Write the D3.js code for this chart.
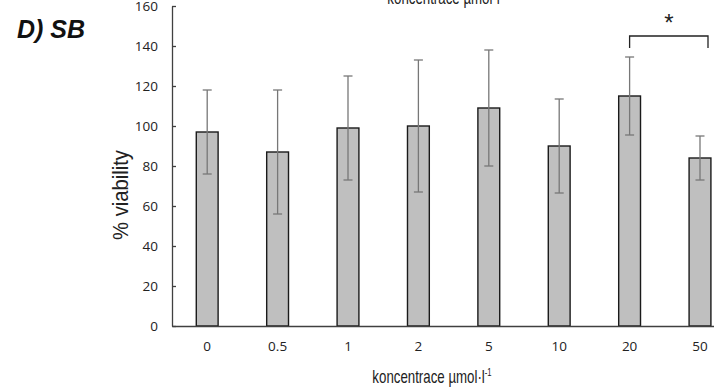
<!DOCTYPE html>
<html>
<head>
<meta charset="utf-8">
<script src="https://cdn.jsdelivr.net/npm/d3@7"></script>
<style>
  body { margin: 0; background: #fff; }
  svg { display: block; }
  .tick text { font-family: "Open Sans", "Liberation Sans", sans-serif; font-size: 13.5px; fill: #222; }
</style>
</head>
<body>
<div id="chart"></div>
<script>
// data
const categories = ['0', '0.5', '1', '2', '5', '10', '20', '50'];
const viability = [97, 87, 99, 100, 109, 90, 115, 84];
const errors = [21, 31, 26, 33, 29, 23.5, 19.5, 11];
const yTicks = [0, 20, 40, 60, 80, 100, 120, 140, 160];
const sigPair = ['20', '50'];

const width = 714, height = 387;
const margin = { top: 6, left: 172, bottom: 61 };

const svg = d3.select('#chart')
  .append('svg')
  .attr('width', width)
  .attr('height', height);

// scales
const x = d3.scaleBand()
  .domain(categories)
  .range([margin.left, margin.left + 8 * 70.4])
  .paddingInner(0.69)
  .paddingOuter(0.345);

const y = d3.scaleLinear()
  .domain([0, 160])
  .range([height - margin.bottom, margin.top]);

// y axis, ticks point inward
const yAxis = svg.append('g')
  .attr('transform', `translate(${margin.left},0)`)
  .call(d3.axisLeft(y).tickValues(yTicks).tickSize(-4).tickSizeOuter(0).tickPadding(14));
yAxis.selectAll('path, line').attr('stroke', '#404040').attr('stroke-width', 1.3);

// bars
svg.selectAll('.bar')
  .data(viability)
  .enter()
  .append('rect')
  .attr('class', 'bar')
  .attr('x', (d, i) => x(categories[i]))
  .attr('y', d => y(d))
  .attr('width', x.bandwidth())
  .attr('height', d => y(0) - y(d))
  .attr('fill', '#bfbfbf')
  .attr('stroke', '#1a1a1a')
  .attr('stroke-width', 1.4);

// error bars
const eb = svg.selectAll('.err')
  .data(viability)
  .enter()
  .append('g')
  .attr('class', 'err')
  .attr('stroke', '#777')
  .attr('stroke-width', 1.3);
const cx = i => x(categories[i]) + x.bandwidth() / 2;
eb.append('line')
  .attr('x1', (d, i) => cx(i)).attr('x2', (d, i) => cx(i))
  .attr('y1', (d, i) => y(d - errors[i])).attr('y2', (d, i) => y(d + errors[i]));
eb.append('line')
  .attr('x1', (d, i) => cx(i) - 4.5).attr('x2', (d, i) => cx(i) + 4.5)
  .attr('y1', (d, i) => y(d + errors[i])).attr('y2', (d, i) => y(d + errors[i]));
eb.append('line')
  .attr('x1', (d, i) => cx(i) - 4.5).attr('x2', (d, i) => cx(i) + 4.5)
  .attr('y1', (d, i) => y(d - errors[i])).attr('y2', (d, i) => y(d - errors[i]));

// x axis (no ticks, labels only)
const xAxis = svg.append('g')
  .attr('transform', `translate(0,${y(0)})`)
  .call(d3.axisBottom(x).tickSize(0).tickPadding(15).tickSizeOuter(0));
xAxis.select('.domain').attr('stroke', '#404040').attr('stroke-width', 1.6);

// significance bracket
const bx1 = cx(categories.indexOf(sigPair[0]));
const bx2 = cx(categories.indexOf(sigPair[1])) + 8;
svg.append('path')
  .attr('d', `M${bx1},48V36H${bx2}V48`)
  .attr('fill', 'none')
  .attr('stroke', '#222')
  .attr('stroke-width', 1.3);
svg.append('text')
  .attr('x', (bx1 + bx2) / 2)
  .attr('y', 31)
  .attr('text-anchor', 'middle')
  .style('font-family', '"Liberation Sans", Arial, sans-serif')
  .style('font-size', '24px')
  .attr('fill', '#222')
  .text('*');

// axis titles
svg.append('text')
  .attr('transform', `translate(128,195) rotate(-90) scale(0.92,1)`)
  .attr('text-anchor', 'middle')
  .style('font-family', '"Liberation Sans", Arial, sans-serif')
  .style('font-size', '22px')
  .attr('fill', '#222')
  .text('% viability');

const unitLabel = (sel, tx, ty) => sel.append('text')
  .attr('transform', `translate(${tx},${ty}) scale(0.7,1)`)
  .attr('text-anchor', 'middle')
  .style('font-family', '"Liberation Sans", Arial, sans-serif')
  .style('font-size', '19px')
  .attr('fill', '#222')
  .html('koncentrace µmol·l<tspan dy="-7" font-size="11px">-1</tspan>');

unitLabel(svg, 432, 383);
// title at the top, clipped by the edge as in the original
unitLabel(svg, 447, 4);

// panel label
svg.append('text')
  .attr('x', 17)
  .attr('y', 38)
  .style('font-family', '"Liberation Sans", Arial, sans-serif')
  .style('font-size', '25px')
  .style('font-weight', 'bold')
  .style('font-style', 'italic')
  .attr('fill', '#111')
  .text('D) SB');
</script>
</body>
</html>
